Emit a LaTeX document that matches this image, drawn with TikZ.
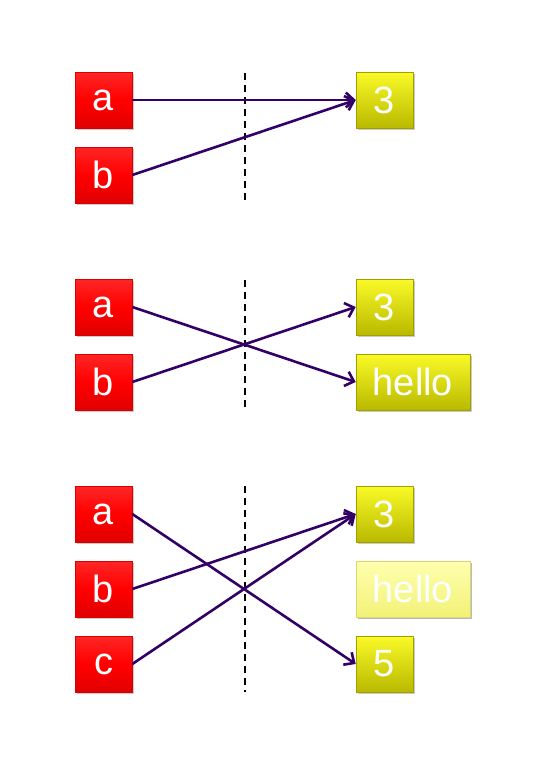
\documentclass[tikz,border=0pt]{standalone}
\usepackage{fontspec}
\setmainfont{Liberation Sans}
\usetikzlibrary{arrows.meta,shadows}
\definecolor{arrowc}{HTML}{330066}
\tikzset{
  boxbase/.style={minimum height=56pt, inner sep=0pt, text=white,
    font=\fontsize{38}{38}\selectfont,
    drop shadow={shadow xshift=1.5pt, shadow yshift=-1.5pt, opacity=0.35, fill=black!60}},
  redbox/.style={boxbase, minimum width=57pt, draw=red!85!black, line width=0.6pt,
    top color=red!85!white, bottom color=red!88!black, middle color=red},
  yelbox/.style={boxbase, minimum width=57pt, draw={rgb,255:red,160;green,160;blue,0}, line width=0.6pt,
    top color={rgb,255:red,250;green,250;blue,40}, middle color={rgb,255:red,230;green,230;blue,0},
    bottom color={rgb,255:red,185;green,185;blue,0}},
  widebox/.style={minimum width=114pt},
  fadedbox/.style={boxbase, minimum width=114pt, draw={rgb,255:red,215;green,215;blue,110}, line width=0.6pt,
    top color={rgb,255:red,255;green,255;blue,175}, middle color={rgb,255:red,255;green,255;blue,145},
    bottom color={rgb,255:red,242;green,242;blue,120},
    drop shadow={shadow xshift=1.5pt, shadow yshift=-1.5pt, opacity=0.15, fill=black!60}},
  conn/.style={draw=arrowc, line width=2.6pt,
    -{Straight Barb[length=8pt, width=15pt, line width=2.6pt]}},
  divider/.style={draw=black, line width=2pt, dash pattern=on 7pt off 5pt},
}
\begin{document}
\begin{tikzpicture}[x=1pt, y=-1pt]
\useasboundingbox (0,0) rectangle (547,774);
% group 1
\node[redbox] (a1) at (103.5,100) {a};
\node[redbox] (b1) at (103.5,175) {b};
\node[yelbox] (t1) at (384.5,100) {3};
\coordinate (d1s) at (245,73);
\coordinate (d1e) at (245,204);
\draw[divider] (d1s) -- (d1e);
\draw[conn] (a1.east) -- (t1.west);
\draw[conn] (b1.east) -- (t1.west);
% group 2
\node[redbox] (a2) at (103.5,307) {a};
\node[redbox] (b2) at (103.5,382) {b};
\node[yelbox] (t2) at (384.5,307) {3};
\node[yelbox, widebox] (h2) at (413,382) {hello};
\coordinate (d2s) at (245,280);
\coordinate (d2e) at (245,410);
\draw[divider] (d2s) -- (d2e);
\draw[conn] (a2.east) -- (h2.west);
\draw[conn] (b2.east) -- (t2.west);
% group 3
\node[redbox] (a3) at (103.5,514) {a};
\node[redbox] (b3) at (103.5,589) {b};
\node[redbox] (c3) at (103.5,664) {c};
\node[yelbox] (t3) at (384.5,514) {3};
\node[fadedbox] (h3) at (413,589) {hello};
\node[yelbox] (f3) at (384.5,664) {5};
\coordinate (d3s) at (245,486);
\coordinate (d3e) at (245,692);
\draw[divider] (d3s) -- (d3e);
\draw[conn] (a3.east) -- (f3.west);
\draw[conn] (b3.east) -- (t3.west);
\draw[conn] (c3.east) -- (t3.west);
\end{tikzpicture}
\end{document}
